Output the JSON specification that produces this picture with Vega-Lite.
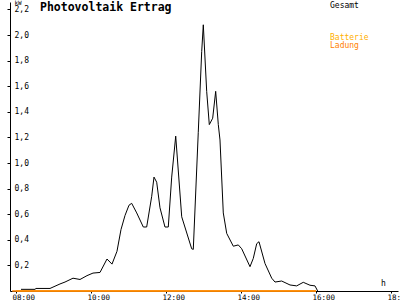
{
  "$schema": "https://vega.github.io/schema/vega-lite/v6.json",
  "width": 388,
  "height": 289,
  "autosize": {"type": "none"},
  "padding": {"left": 10, "top": 2, "right": 2, "bottom": 9},
  "background": "white",
  "view": {"stroke": null},
  "title": {
    "text": "Photovoltaik Ertrag",
    "anchor": "start",
    "frame": "group",
    "font": "DejaVu Sans Mono",
    "fontSize": 11.5,
    "fontWeight": "bold",
    "color": "black",
    "dx": 30,
    "dy": 23,
    "offset": 0,
    "baseline": "alphabetic"
  },
  "config": {
    "font": "DejaVu Sans Mono",
    "axis": {"grid": false, "domainColor": "black", "tickColor": "black", "labelColor": "black", "titleColor": "black", "labelFont": "DejaVu Sans Mono", "titleFont": "DejaVu Sans Mono", "labelFontSize": 8, "tickSize": 3, "domainWidth": 1, "tickWidth": 1}
  },
  "datasets": {
    "gesamt": [
      {"t": 8.133, "kW": 0.013, "serie": "Gesamt"},
      {"t": 8.507, "kW": 0.013, "serie": "Gesamt"},
      {"t": 8.533, "kW": 0.02, "serie": "Gesamt"},
      {"t": 8.907, "kW": 0.02, "serie": "Gesamt"},
      {"t": 9.173, "kW": 0.055, "serie": "Gesamt"},
      {"t": 9.307, "kW": 0.07, "serie": "Gesamt"},
      {"t": 9.52, "kW": 0.1, "serie": "Gesamt"},
      {"t": 9.707, "kW": 0.09, "serie": "Gesamt"},
      {"t": 9.893, "kW": 0.12, "serie": "Gesamt"},
      {"t": 10.053, "kW": 0.14, "serie": "Gesamt"},
      {"t": 10.24, "kW": 0.145, "serie": "Gesamt"},
      {"t": 10.427, "kW": 0.25, "serie": "Gesamt"},
      {"t": 10.56, "kW": 0.21, "serie": "Gesamt"},
      {"t": 10.693, "kW": 0.31, "serie": "Gesamt"},
      {"t": 10.8, "kW": 0.48, "serie": "Gesamt"},
      {"t": 10.907, "kW": 0.59, "serie": "Gesamt"},
      {"t": 11.013, "kW": 0.67, "serie": "Gesamt"},
      {"t": 11.085, "kW": 0.685, "serie": "Gesamt"},
      {"t": 11.219, "kW": 0.61, "serie": "Gesamt"},
      {"t": 11.395, "kW": 0.5, "serie": "Gesamt"},
      {"t": 11.485, "kW": 0.5, "serie": "Gesamt"},
      {"t": 11.619, "kW": 0.74, "serie": "Gesamt"},
      {"t": 11.68, "kW": 0.89, "serie": "Gesamt"},
      {"t": 11.752, "kW": 0.85, "serie": "Gesamt"},
      {"t": 11.84, "kW": 0.65, "serie": "Gesamt"},
      {"t": 11.973, "kW": 0.5, "serie": "Gesamt"},
      {"t": 12.061, "kW": 0.5, "serie": "Gesamt"},
      {"t": 12.152, "kW": 0.89, "serie": "Gesamt"},
      {"t": 12.259, "kW": 1.21, "serie": "Gesamt"},
      {"t": 12.419, "kW": 0.58, "serie": "Gesamt"},
      {"t": 12.685, "kW": 0.33, "serie": "Gesamt"},
      {"t": 12.728, "kW": 0.325, "serie": "Gesamt"},
      {"t": 12.861, "kW": 1.24, "serie": "Gesamt"},
      {"t": 12.952, "kW": 1.87, "serie": "Gesamt"},
      {"t": 12.995, "kW": 2.08, "serie": "Gesamt"},
      {"t": 13.085, "kW": 1.56, "serie": "Gesamt"},
      {"t": 13.155, "kW": 1.3, "serie": "Gesamt"},
      {"t": 13.245, "kW": 1.35, "serie": "Gesamt"},
      {"t": 13.325, "kW": 1.56, "serie": "Gesamt"},
      {"t": 13.395, "kW": 1.3, "serie": "Gesamt"},
      {"t": 13.44, "kW": 1.18, "serie": "Gesamt"},
      {"t": 13.528, "kW": 0.61, "serie": "Gesamt"},
      {"t": 13.619, "kW": 0.45, "serie": "Gesamt"},
      {"t": 13.795, "kW": 0.35, "serie": "Gesamt"},
      {"t": 13.928, "kW": 0.36, "serie": "Gesamt"},
      {"t": 14.019, "kW": 0.33, "serie": "Gesamt"},
      {"t": 14.24, "kW": 0.19, "serie": "Gesamt"},
      {"t": 14.328, "kW": 0.255, "serie": "Gesamt"},
      {"t": 14.419, "kW": 0.37, "serie": "Gesamt"},
      {"t": 14.48, "kW": 0.385, "serie": "Gesamt"},
      {"t": 14.64, "kW": 0.215, "serie": "Gesamt"},
      {"t": 14.819, "kW": 0.1, "serie": "Gesamt"},
      {"t": 14.907, "kW": 0.07, "serie": "Gesamt"},
      {"t": 15.085, "kW": 0.078, "serie": "Gesamt"},
      {"t": 15.307, "kW": 0.047, "serie": "Gesamt"},
      {"t": 15.485, "kW": 0.04, "serie": "Gesamt"},
      {"t": 15.661, "kW": 0.068, "serie": "Gesamt"},
      {"t": 15.84, "kW": 0.045, "serie": "Gesamt"},
      {"t": 15.973, "kW": 0.04, "serie": "Gesamt"},
      {"t": 16.045, "kW": 0.0, "serie": "Gesamt"}
    ],
    "batterie": [
      {"t": 8.0, "kW": 0, "serie": "Batterie"},
      {"t": 16.0, "kW": 0, "serie": "Batterie"},
      {"t": 7.9, "kW": 0, "serie": "Ladung"},
      {"t": 16.0, "kW": 0, "serie": "Ladung"}
    ]
  },
  "encoding": {
    "x": {
      "field": "t", "type": "quantitative",
      "scale": {"domain": [7.84, 18.187], "nice": false, "zero": false},
      "axis": {
        "values": [8, 10, 12, 14, 16, 18],
        "labelExpr": "(datum.value < 10 ? '0' : '') + datum.value + ':00'",
        "tickSize": 2,
        "labelAlign": "left", "labelOffset": -4, "labelPadding": 6, "labelBaseline": "alphabetic",
        "labelFontSize": 7.5,
        "labelFlush": false, "labelOverlap": false,
        "title": "h", "titleFontSize": 8, "titleFontWeight": "normal",
        "titleX": 373, "titleY": -6, "titleAlign": "center", "titleBaseline": "alphabetic"
      }
    },
    "y": {
      "field": "kW", "type": "quantitative",
      "scale": {"domain": [0, 2.258], "nice": false},
      "axis": {
        "values": [0.2, 0.4, 0.6, 0.8, 1, 1.2, 1.4, 1.6, 1.8, 2, 2.2],
        "labelExpr": "replace(format(datum.value, '.1f'), '.', ',')",
        "labelAlign": "left", "labelPadding": -7, "labelBaseline": "middle",
        "labelFlush": false, "labelOverlap": false,
        "title": "kW", "titleAngle": 0, "titleFontSize": 6, "titleFontWeight": "normal",
        "titleX": 4, "titleY": -3, "titleAlign": "left", "titleBaseline": "top"
      }
    }
  },
  "layer": [
    {
      "data": {"name": "batterie"},
      "mark": {"type": "line", "strokeWidth": 1.5},
      "encoding": {
        "stroke": {
          "field": "serie", "type": "nominal",
          "scale": {"domain": ["Batterie", "Ladung"], "range": ["#FFB000", "#FF8000"]},
          "legend": {
            "orient": "none", "legendX": 312, "legendY": 32, "title": null,
            "symbolOpacity": 0, "symbolSize": 0, "symbolStrokeWidth": 0, "labelOffset": 0,
            "labelFont": "DejaVu Sans Mono", "labelFontSize": 8, "rowPadding": 0,
            "encode": {"labels": {"update": {"fill": {"scale": "stroke", "field": "value"}}}}
          }
        }
      }
    },
    {
      "data": {"name": "gesamt"},
      "mark": {"type": "line", "strokeWidth": 1},
      "encoding": {
        "color": {
          "field": "serie", "type": "nominal",
          "scale": {"domain": ["Gesamt"], "range": ["black"]},
          "legend": {
            "orient": "none", "legendX": 312, "legendY": 0, "title": null,
            "symbolOpacity": 0, "symbolSize": 0, "symbolStrokeWidth": 0, "labelOffset": 0,
            "labelFont": "DejaVu Sans Mono", "labelFontSize": 8, "labelColor": "black"
          }
        }
      }
    }
  ]
}
